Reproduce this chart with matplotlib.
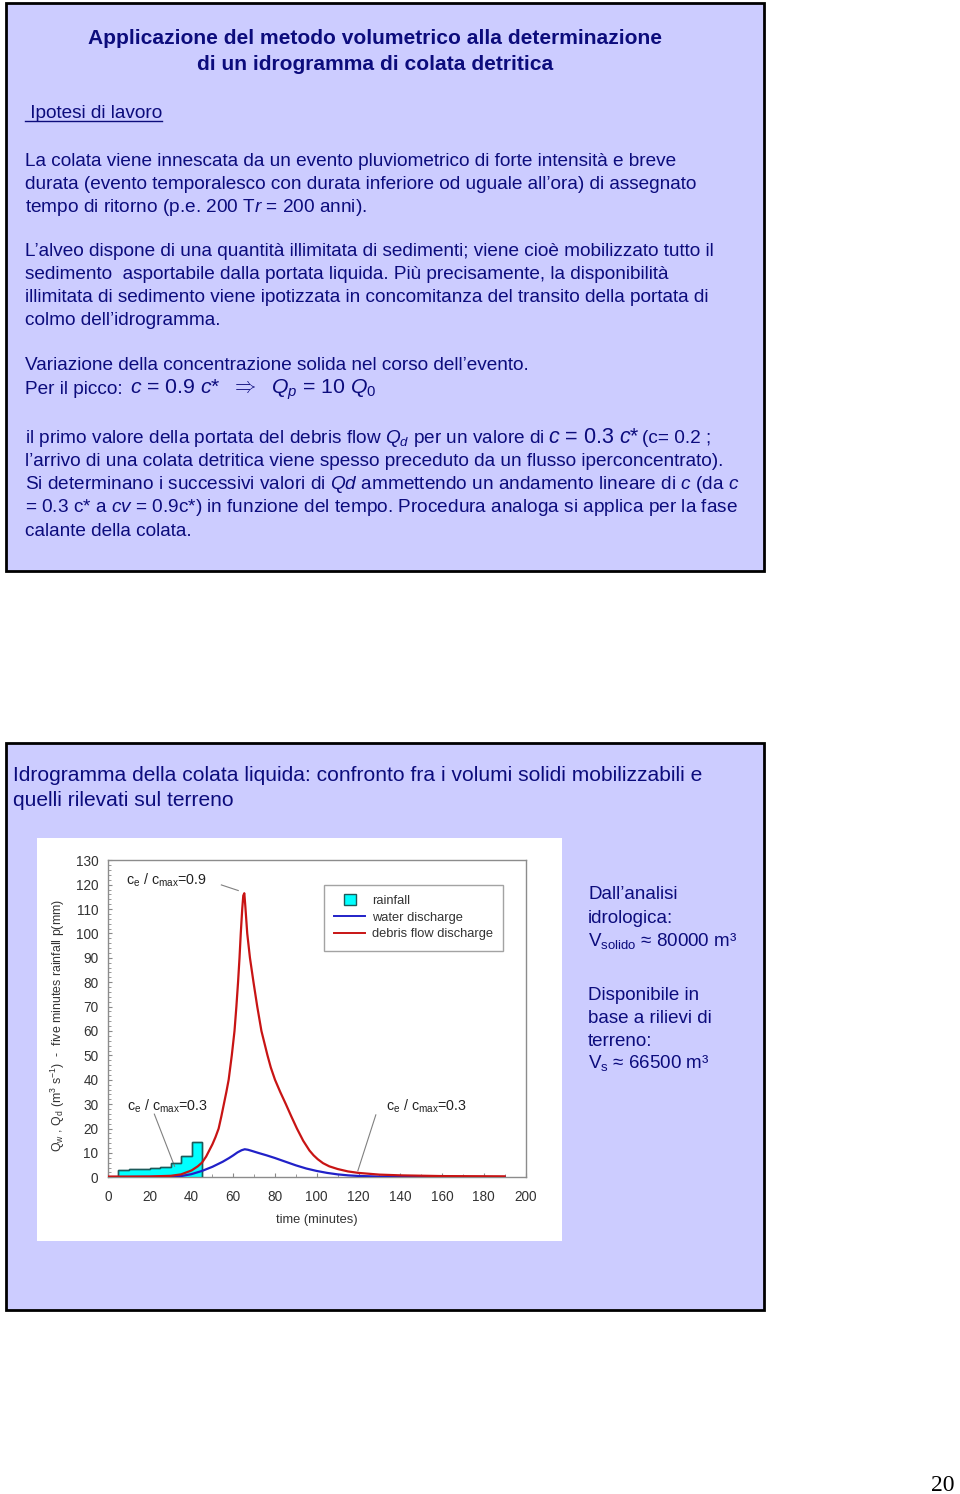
import matplotlib
matplotlib.use('Agg')
import matplotlib.pyplot as plt
from matplotlib.patches import Rectangle
from matplotlib.lines import Line2D
from matplotlib.legend_handler import HandlerPatch

plt.rcParams['font.family'] = ['Liberation Sans', 'DejaVu Sans']
plt.rcParams['mathtext.fontset'] = 'custom'
plt.rcParams['mathtext.rm'] = 'Liberation Sans'
plt.rcParams['mathtext.it'] = 'Liberation Sans:italic'
plt.rcParams['mathtext.bf'] = 'Liberation Sans:bold'

# ---------------- data ----------------
rain_edges = [5, 10, 15, 20, 25, 30, 35, 40, 45]
rain_mm = [3.0, 3.2, 3.5, 3.7, 4.1, 5.8, 8.8, 14.5]

debris_t = [0, 10, 20, 30, 35, 40, 43, 45, 47, 50, 51.5, 53, 54.3, 55.5, 56.7, 57.8, 59.3,
            60.6, 61.5, 62.3, 63, 63.6, 64.3, 64.8, 65.3, 65.8, 66.7, 68, 69.7, 71.5, 73.5,
            76.4, 78, 80, 82.5, 85.2, 87.8, 90.5, 93.5, 96.5, 98.5, 100.5, 103, 106, 110,
            115, 120, 130, 140, 160, 190]
debris_q = [0.3, 0.3, 0.35, 0.6, 1.2, 2.8, 4.5, 6, 8.5, 13.5, 16.5, 20, 25, 30, 35, 40, 50,
            60, 70, 80, 90, 100, 110, 115.5, 116.5, 111, 100, 90, 80, 70, 60,
            50, 45, 40, 35, 30, 25, 20, 15, 11, 9, 7.4, 5.8, 4.5, 3.4, 2.4, 1.8,
            1.1, 0.8, 0.5, 0.4]

water_t = [0, 30, 35, 40, 45, 50, 55, 58, 60, 62, 64, 65.5, 67, 69, 72, 76, 80, 85, 90, 95,
           100, 105, 110, 115, 120, 130, 140, 160, 190]
water_q = [0.1, 0.2, 0.5, 1.3, 2.6, 4.3, 6.4, 7.9, 9.0, 10.2, 11.1, 11.5, 11.3, 10.8, 10.0,
           9.0, 7.9, 6.4, 4.9, 3.6, 2.6, 1.8, 1.2, 0.8, 0.55, 0.3, 0.2, 0.1, 0.1]

x_ticks = [0, 20, 40, 60, 80, 100, 120, 140, 160, 180, 200]
y_ticks = [0, 10, 20, 30, 40, 50, 60, 70, 80, 90, 100, 110, 120, 130]
legend_labels = ['rainfall', 'water discharge', 'debris flow discharge']

# annotations: (text, text position, leader from, leader to)
ann_texts = [r'c$_{\rm e}$ / c$_{\rm max}$=0.9', r'c$_{\rm e}$ / c$_{\rm max}$=0.3',
             r'c$_{\rm e}$ / c$_{\rm max}$=0.3']
ann_text_xy = [(8.4, 122), (8.9, 29.1), (133.2, 29.1)]
ann_line_from = [(54.3, 119.9), (22.2, 25.9), (128.3, 25.6)]
ann_line_to = [(62.4, 117.6), (31.9, 4.5), (119.7, 2.7)]

# ---------------- page text ----------------
NAVY = '#0c0c7c'
BOX = '#CCCCFF'

title_lines = ['Applicazione del metodo volumetrico alla determinazione',
               'di un idrogramma di colata detritica']
body_lines = [
    (166, 'La colata viene innescata da un evento pluviometrico di forte intensità e breve'),
    (189, 'durata (evento temporalesco con durata inferiore od uguale all’ora) di assegnato'),
    (212, r'tempo di ritorno (p.e. 200 T$r$ = 200 anni).'),
    (256, 'L’alveo dispone di una quantità illimitata di sedimenti; viene cioè mobilizzato tutto il'),
    (279, 'sedimento  asportabile dalla portata liquida. Più precisamente, la disponibilità'),
    (302, 'illimitata di sedimento viene ipotizzata in concomitanza del transito della portata di'),
    (325, 'colmo dell’idrogramma.'),
    (370, 'Variazione della concentrazione solida nel corso dell’evento.'),
    (466, 'l’arrivo di una colata detritica viene spesso preceduto da un flusso iperconcentrato).'),
    (489, r'Si determinano i successivi valori di $Qd$ ammettendo un andamento lineare di $c$ (da $c$'),
    (512, r'= 0.3 c* a $cv$ = 0.9c*) in funzione del tempo. Procedura analoga si applica per la fase'),
    (536, 'calante della colata.'),
]

fig = plt.figure(figsize=(9.6, 14.94), dpi=100)
fig.patch.set_facecolor('white')
bg = fig.add_axes([0, 0, 1, 1])
bg.set_xlim(0, 960)
bg.set_ylim(1494, 0)
bg.axis('off')

bg.add_patch(Rectangle((6, 3), 758, 568, facecolor=BOX, edgecolor='black', lw=2))
bg.add_patch(Rectangle((6, 743), 758, 567, facecolor=BOX, edgecolor='black', lw=2))
bg.add_patch(Rectangle((37, 838), 525, 403, facecolor='white', edgecolor='none'))

BODY = 13.7
TITLE = 15.1
bg.text(375, 44, title_lines[0], ha='center', va='baseline', fontsize=TITLE,
        fontweight='bold', color=NAVY)
bg.text(375, 70, title_lines[1], ha='center', va='baseline', fontsize=TITLE,
        fontweight='bold', color=NAVY)
bg.text(25, 118, ' Ipotesi di lavoro', ha='left', va='baseline', fontsize=BODY, color=NAVY)
bg.plot([25, 162], [121, 121], color=NAVY, lw=1)

for yb, s in body_lines:
    bg.text(25, yb, s, ha='left', va='baseline', fontsize=BODY, color=NAVY)

bg.text(25, 394, 'Per il picco:', ha='left', va='baseline', fontsize=BODY, color=NAVY)
bg.text(130, 394, r'$c$ = 0.9 $c$*  $\Rightarrow$  $Q_p$ = 10 $Q_0$', ha='left',
        va='baseline', fontsize=15.3, color=NAVY)
bg.text(25, 443, r'il primo valore della portata del debris flow $Q_d$ per un valore di',
        ha='left', va='baseline', fontsize=BODY, color=NAVY)
bg.text(548, 443, r'$c$ = 0.3 $c$*', ha='left', va='baseline', fontsize=15.5, color=NAVY)
bg.text(642, 443, '(c= 0.2 ;', ha='left', va='baseline', fontsize=BODY, color=NAVY)

SLIDE2 = 15.1
bg.text(13, 781, 'Idrogramma della colata liquida: confronto fra i volumi solidi mobilizzabili e',
        ha='left', va='baseline', fontsize=SLIDE2, color=NAVY)
bg.text(13, 806, 'quelli rilevati sul terreno', ha='left', va='baseline', fontsize=SLIDE2,
        color=NAVY)

right_lines = [(899, 'Dall’analisi'), (923, 'idrologica:'),
               (946, r'V$_{\rm solido}$ ≈ 80000 m³'),
               (1000, 'Disponibile in'), (1023, 'base a rilievi di'), (1046, 'terreno:'),
               (1068, r'V$_{\rm s}$ ≈ 66500 m³')]
for yb, s in right_lines:
    bg.text(588, yb, s, ha='left', va='baseline', fontsize=13.5, color=NAVY)

bg.text(955, 1491, '20', ha='right', va='baseline', fontsize=17, color='black',
        family='Liberation Serif')

# ---------------- chart ----------------
ax = fig.add_axes([108 / 960, 1 - 1177.3 / 1494, 417.5 / 960, 317 / 1494])
ax.set_facecolor('white')
ax.stairs(rain_mm, rain_edges, fill=True, facecolor='#00FFFF', edgecolor='#1d5a5a',
          lw=1.0, baseline=0, zorder=2)
ax.stairs(rain_mm, rain_edges, fill=False, edgecolor='#1d5a5a', lw=1.0, baseline=0, zorder=3)
ax.plot(water_t, water_q, color='#2121c8', lw=1.6, zorder=4)
ax.plot(debris_t, debris_q, color='#c81414', lw=1.6, zorder=5)

ax.set_xlim(0, 200)
ax.set_ylim(0, 130)
ax.set_xticks(x_ticks)
ax.set_yticks(y_ticks)
ax.set_xticks(range(0, 201, 10), minor=True)
ax.set_yticks(range(0, 131, 2), minor=True)
ax.tick_params(which='both', direction='in', colors='#888888', labelcolor='#333333',
               labelsize=9.8)
ax.tick_params(which='major', length=3, pad=7)
ax.tick_params(axis='x', which='major', pad=9)
ax.tick_params(which='minor', length=2)
for sp in ax.spines.values():
    sp.set_color('#8c8c8c')
    sp.set_linewidth(1)

ax.set_xlabel('time (minutes)', fontsize=9.3, color='#333333')
ax.xaxis.set_label_coords(0.5, -0.116)
ax.set_ylabel(r'Q$_{\rm w}$ , Q$_{\rm d}$ (m$^3$ s$^{-1}$)  -  five minutes rainfall p(mm)',
              fontsize=8.9, color='#333333')
ax.yaxis.set_label_coords(-0.098, 0.48)

for s, (tx, ty), (x0, y0), (x1, y1) in zip(ann_texts, ann_text_xy, ann_line_from, ann_line_to):
    ax.text(tx, ty, s, ha='left', va='center', fontsize=10.3, color='#222222')
    ax.plot([x0, x1], [y0, y1], color='#808080', lw=0.8)


class SquareHandler(HandlerPatch):
    def create_artists(self, legend, orig_handle, xdescent, ydescent, width, height,
                       fontsize, trans):
        s = height * 1.3
        p = Rectangle((-xdescent + width / 2 - s / 2, -ydescent + height / 2 - s / 2), s, s,
                      facecolor=orig_handle.get_facecolor(),
                      edgecolor=orig_handle.get_edgecolor(), lw=1, transform=trans)
        return [p]


h_rain = Rectangle((0, 0), 1, 1, facecolor='#00FFFF', edgecolor='#1d5a5a')
h_w = Line2D([], [], color='#2121c8', lw=1.4)
h_d = Line2D([], [], color='#c81414', lw=1.4)
leg = ax.legend([h_rain, h_w, h_d], legend_labels, loc='upper left',
                bbox_to_anchor=(0.517, 0.923), borderaxespad=0, fontsize=9.3, frameon=True,
                fancybox=False, edgecolor='#8c8c8c', handlelength=2.4, handletextpad=0.5,
                borderpad=0.8, labelspacing=0.35,
                handler_map={Rectangle: SquareHandler()})
leg.get_frame().set_linewidth(1)
for txt in leg.get_texts():
    txt.set_color('#333333')

fig.savefig('out.png', dpi=100)
